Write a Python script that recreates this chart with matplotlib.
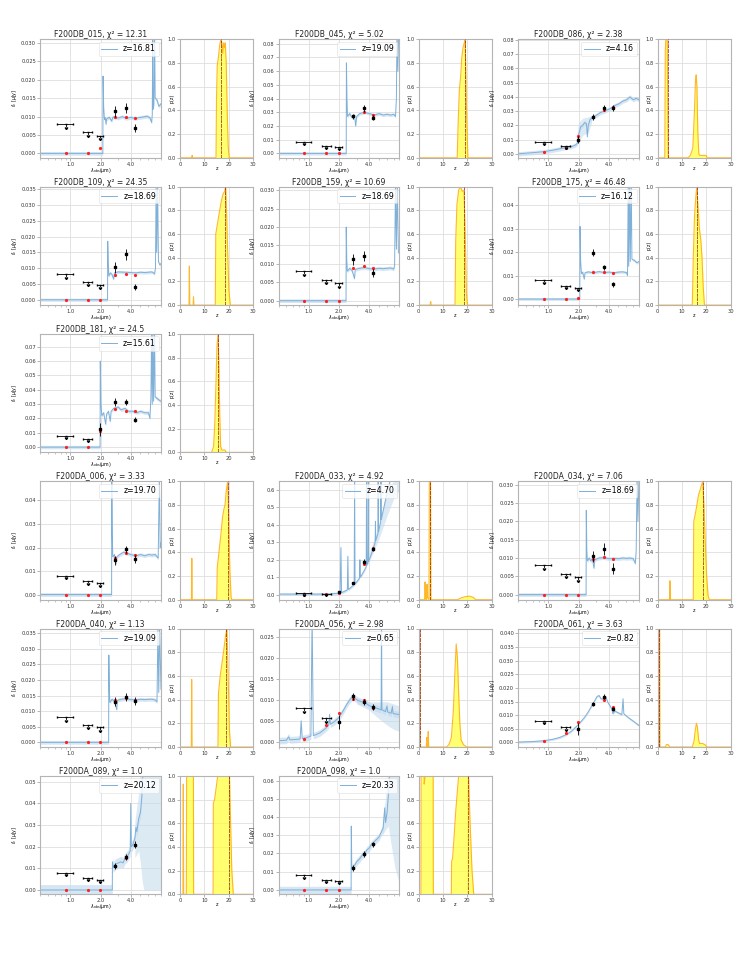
import matplotlib
matplotlib.use('Agg')
import matplotlib.pyplot as plt
from matplotlib.ticker import FixedLocator, FixedFormatter, MultipleLocator, NullFormatter

plt.rcParams['font.family'] = ['DejaVu Sans']
plt.rcParams['mathtext.fontset'] = 'dejavusans'

# NIRCam filters: pivot wavelength (um); first three also used as dropout limits
filt_wave = [0.90, 1.50, 1.99, 2.77, 3.56, 4.40]
filt_hw = [0.16, 0.15, 0.15]
ul_flux = [0.0080, 0.0057, 0.0048]

names = ['F200DB_015', 'F200DB_045', 'F200DB_086', 'F200DB_109', 'F200DB_159',
         'F200DB_175', 'F200DB_181', 'F200DA_006', 'F200DA_033', 'F200DA_034',
         'F200DA_040', 'F200DA_056', 'F200DA_061', 'F200DA_089', 'F200DA_098']
chi2 = ['12.31', '5.02', '2.38', '24.35', '10.69', '46.48', '24.5', '3.33', '4.92',
        '7.06', '1.13', '2.98', '3.63', '1.0', '1.0']
zbest = [16.81, 19.09, 4.16, 18.69, 18.69, 16.12, 15.61, 19.70, 4.70, 18.69,
         19.09, 0.65, 0.82, 20.12, 20.33]
panel_row = [0, 0, 0, 1, 1, 1, 2, 3, 3, 3, 4, 4, 4, 5, 5]
panel_col = [0, 1, 2, 0, 1, 2, 0, 0, 1, 2, 0, 1, 2, 0, 1]

y_lo = [-0.0012, -0.0032, -0.0028, -0.0017, -0.0012, -0.0026, -0.0037, -0.0022,
        -0.028, -0.0014, -0.0015, -0.0012, -0.0017, -0.002, -0.0024]
y_hi = [0.031, 0.0832, 0.0805, 0.0358, 0.031, 0.048, 0.079, 0.0482, 0.649, 0.031,
        0.0365, 0.0269, 0.0418, 0.0528, 0.0626]
y_step = [0.005, 0.01, 0.01, 0.005, 0.005, 0.01, 0.01, 0.01, 0.1, 0.005, 0.005,
          0.005, 0.005, 0.01, 0.01]

# number of filters shown as upper limits (from the blue end)
n_ul = [3, 3, 2, 3, 3, 3, 2, 3, 2, 3, 3, 2, 2, 3, 3]
det_flux = [[0.0115, 0.0124, 0.0069], [0.027, 0.033, 0.026],
            [0.0100, 0.026, 0.032, 0.032], [0.0102, 0.0144, 0.0041],
            [0.0112, 0.0122, 0.0075], [0.0198, 0.0135, 0.0062],
            [0.0125, 0.0315, 0.0315, 0.019], [0.0145, 0.0192, 0.0150],
            [0.014, 0.068, 0.19, 0.26], [0.0105, 0.0125, 0.0071],
            [0.0130, 0.0145, 0.0133], [0.0048, 0.0108, 0.0095, 0.0083],
            [0.0050, 0.0141, 0.0168, 0.0122], [0.011, 0.0152, 0.021],
            [0.012, 0.0197, 0.025]]
det_err = [[0.0015, 0.0013, 0.0010], [0.002, 0.0025, 0.002],
           [0.0025, 0.002, 0.002, 0.002], [0.0017, 0.0017, 0.0010],
           [0.0015, 0.0013, 0.0010], [0.0015, 0.0012, 0.0010],
           [0.0045, 0.0025, 0.0022, 0.0018], [0.0018, 0.0015, 0.0018],
           [0.004, 0.006, 0.012, 0.012], [0.0015, 0.0016, 0.0014],
           [0.0015, 0.0012, 0.0012], [0.0017, 0.0008, 0.0008, 0.0007],
           [0.0022, 0.0008, 0.0008, 0.0008], [0.0015, 0.0015, 0.0015],
           [0.0015, 0.0015, 0.0015]]
model_flux = [[0, 0, 0.0015, 0.0098, 0.0098, 0.0095],
              [0, 0, 0, 0.027, 0.030, 0.028],
              [0.0016, 0.0042, 0.0127, 0.0258, 0.031, 0.033],
              [0, 0, 0, 0.0079, 0.0082, 0.0079],
              [0, 0, 0, 0.0088, 0.0095, 0.0088],
              [0, 0, 0.0005, 0.0115, 0.0115, 0.0112],
              [0, 0, 0.011, 0.0265, 0.0255, 0.025],
              [0, 0, 0, 0.0155, 0.0175, 0.0168],
              [-0.003, 0.002, 0.013, 0.070, 0.175, 0.27],
              [0, 0, 0, 0.0098, 0.0103, 0.0098],
              [0, 0, 0, 0.0135, 0.0142, 0.0137],
              [0.0008, 0.0040, 0.0068, 0.0103, 0.0099, 0.0080],
              [0.0004, 0.0034, 0.0076, 0.0142, 0.0155, 0.0130],
              [0, 0, 0, 0.011, 0.015, 0.021],
              [0, 0, 0, 0.012, 0.0197, 0.025]]

# best-fit template spectra (wavelength um, flux uJy)
spec_015 = [(0.5, 0), (2.11, 0), (2.12, 0.021), (2.15, 0.0125), (2.19, 0.0092), (2.23, 0.0097),
            (2.27, 0.0079), (2.30, 0.0094), (2.45, 0.0098), (2.58, 0.0088), (2.66, 0.0099),
            (3.0, 0.0096), (3.3, 0.0100), (3.6, 0.0095), (4.0, 0.0098), (4.4, 0.0095),
            (4.8, 0.0097), (5.3, 0.0099), (5.8, 0.0101), (6.2, 0.0097), (6.45, 0.0084),
            (6.55, 0.0105), (6.62, 0.034), (6.68, 0.012), (6.8, 0.0135), (6.9, 0.034),
            (7.0, 0.015), (7.3, 0.0145), (7.6, 0.0128), (8.0, 0.0135)]
spec_045 = [(0.5, 0), (2.36, 0), (2.37, 0.066), (2.40, 0.040), (2.43, 0.027), (2.55, 0.029),
            (2.7, 0.026), (2.85, 0.028), (2.93, 0.020), (3.0, 0.027), (3.2, 0.029), (3.6, 0.030),
            (4.0, 0.029), (4.5, 0.028), (5.0, 0.029), (5.5, 0.028), (6.0, 0.0285), (6.5, 0.028),
            (7.0, 0.0285), (7.3, 0.027), (7.45, 0.040), (7.55, 0.090), (7.7, 0.060),
            (7.85, 0.090), (8.0, 0.090)]
spec_086 = [(0.5, 0.0), (0.7, 0.0008), (0.9, 0.0015), (1.1, 0.0025), (1.3, 0.0035), (1.5, 0.0045),
            (1.7, 0.0050), (1.85, 0.0060), (1.95, 0.0075), (2.0, 0.013), (2.05, 0.016),
            (2.1, 0.019), (2.2, 0.020), (2.3, 0.022), (2.4, 0.021), (2.45, 0.012), (2.5, 0.020),
            (2.6, 0.024), (2.8, 0.026), (3.0, 0.027), (3.3, 0.029), (3.6, 0.030), (3.9, 0.031),
            (4.2, 0.032), (4.6, 0.034), (5.0, 0.035), (5.5, 0.037), (6.0, 0.038), (6.5, 0.040),
            (7.0, 0.038), (7.5, 0.039), (8.0, 0.038)]
spec_109 = [(0.5, 0), (2.35, 0), (2.36, 0.0185), (2.39, 0.011), (2.42, 0.0075), (2.5, 0.0085),
            (2.6, 0.0080), (2.7, 0.0065), (2.75, 0.0085), (3.0, 0.0088), (3.5, 0.0087),
            (4.0, 0.0086), (4.5, 0.0085), (5.0, 0.0087), (5.5, 0.0086), (6.0, 0.0087),
            (6.5, 0.0088), (6.9, 0.0082), (7.05, 0.010), (7.15, 0.036), (7.25, 0.015),
            (7.4, 0.036), (7.55, 0.012), (7.8, 0.011), (8.0, 0.0115)]
spec_159 = [(0.5, 0), (2.35, 0), (2.36, 0.020), (2.39, 0.011), (2.42, 0.0080), (2.55, 0.0088),
            (2.7, 0.0082), (2.85, 0.0060), (2.9, 0.0085), (3.2, 0.0088), (3.6, 0.0090),
            (4.0, 0.0087), (4.5, 0.0086), (5.0, 0.0088), (5.5, 0.0087), (6.0, 0.0088),
            (6.5, 0.0089), (7.0, 0.0086), (7.15, 0.0095), (7.3, 0.032), (7.45, 0.014),
            (7.6, 0.032), (7.8, 0.013), (8.0, 0.013)]
spec_175 = [(0.5, 0), (2.06, 0), (2.07, 0.031), (2.10, 0.016), (2.14, 0.0108), (2.2, 0.0115),
            (2.28, 0.0085), (2.32, 0.0112), (2.5, 0.0116), (2.8, 0.0112), (3.2, 0.0117),
            (3.6, 0.0113), (4.0, 0.0115), (4.5, 0.0112), (5.0, 0.0115), (5.5, 0.0116),
            (6.0, 0.0113), (6.15, 0.0100), (6.25, 0.050), (6.32, 0.014), (6.45, 0.050),
            (6.55, 0.016), (6.7, 0.050), (6.8, 0.017), (7.2, 0.0165), (7.6, 0.0155), (8.0, 0.016)]
spec_181 = [(0.5, 0), (1.98, 0), (1.99, 0.060), (2.02, 0.030), (2.06, 0.022), (2.15, 0.024),
            (2.25, 0.016), (2.3, 0.023), (2.4, 0.025), (2.5, 0.018), (2.55, 0.025), (2.7, 0.027),
            (3.0, 0.028), (3.2, 0.026), (3.5, 0.027), (3.8, 0.025), (4.2, 0.025), (4.6, 0.024),
            (5.0, 0.025), (5.5, 0.024), (6.0, 0.024), (6.2, 0.020), (6.35, 0.035), (6.45, 0.080),
            (6.55, 0.030), (6.65, 0.080), (6.75, 0.032), (6.9, 0.080), (7.0, 0.035),
            (7.3, 0.034), (7.6, 0.033), (8.0, 0.032)]
spec_006 = [(0.5, 0), (2.58, 0), (2.59, 0.050), (2.62, 0.025), (2.65, 0.016), (2.75, 0.017),
            (2.85, 0.013), (2.9, 0.016), (3.1, 0.017), (3.4, 0.018), (3.7, 0.0175), (4.0, 0.017),
            (4.5, 0.0165), (5.0, 0.017), (5.5, 0.0165), (6.0, 0.017), (6.5, 0.0168), (7.0, 0.017),
            (7.5, 0.0155), (7.7, 0.050), (7.85, 0.020), (8.0, 0.022)]
spec_033 = [(0.5, 0.004), (0.8, 0.004), (1.2, 0.004), (1.6, 0.005), (1.9, 0.008), (2.05, 0.010),
            (2.09, 0.27), (2.12, 0.012), (2.3, 0.022), (2.42, 0.028), (2.45, 0.22), (2.48, 0.030),
            (2.7, 0.048), (2.83, 0.058), (2.86, 0.66), (2.89, 0.062), (3.1, 0.085), (3.2, 0.095),
            (3.23, 0.20), (3.26, 0.10), (3.5, 0.13), (3.73, 0.16), (3.76, 0.66), (3.79, 0.17),
            (3.88, 0.18), (3.91, 0.66), (3.94, 0.19), (4.3, 0.25), (4.58, 0.30), (4.61, 0.42),
            (4.64, 0.31), (4.88, 0.35), (4.91, 0.66), (4.94, 0.36), (5.2, 0.42), (5.23, 0.66),
            (5.26, 0.43), (5.6, 0.50), (6.0, 0.58), (6.5, 0.66), (8.0, 0.70)]
spec_034 = [(0.5, 0), (2.38, 0), (2.39, 0.023), (2.42, 0.012), (2.45, 0.0092), (2.55, 0.010),
            (2.65, 0.0092), (2.75, 0.0098), (2.85, 0.0072), (2.9, 0.0095), (3.2, 0.0100),
            (3.6, 0.0101), (4.0, 0.0098), (4.5, 0.0099), (5.0, 0.0098), (5.5, 0.0100),
            (6.0, 0.0099), (6.5, 0.0100), (7.0, 0.0098), (7.35, 0.0085), (7.5, 0.012),
            (7.65, 0.032), (7.8, 0.020), (8.0, 0.032)]
spec_040 = [(0.5, 0), (2.41, 0), (2.42, 0.028), (2.45, 0.016), (2.48, 0.0128), (2.6, 0.0138),
            (2.75, 0.0132), (2.9, 0.0105), (2.95, 0.0135), (3.2, 0.0138), (3.6, 0.0140),
            (4.0, 0.0137), (4.5, 0.0136), (5.0, 0.0138), (5.5, 0.0137), (6.0, 0.0138),
            (6.5, 0.0138), (7.0, 0.0136), (7.3, 0.013), (7.45, 0.037), (7.6, 0.016),
            (7.75, 0.037), (8.0, 0.017)]
spec_056 = [(0.5, 0.0003), (0.6, 0.0004), (0.63, 0.0012), (0.65, 0.0005), (0.75, 0.0006),
            (0.82, 0.0007), (0.84, 0.0050), (0.86, 0.0008), (0.95, 0.0010), (1.05, 0.0014),
            (1.08, 0.030), (1.11, 0.0015), (1.2, 0.0018), (1.3, 0.0022), (1.4, 0.0028),
            (1.5, 0.0034), (1.58, 0.0040), (1.61, 0.0065), (1.64, 0.0042), (1.8, 0.0048),
            (2.0, 0.0058), (2.2, 0.0074), (2.4, 0.0090), (2.6, 0.0102), (2.75, 0.0107),
            (2.9, 0.0103), (3.1, 0.0098), (3.4, 0.0095), (3.7, 0.0092), (4.0, 0.0086),
            (4.3, 0.0083), (4.6, 0.0081), (5.0, 0.0078), (5.25, 0.0076), (5.3, 0.030),
            (5.35, 0.0076), (5.8, 0.0072), (6.0, 0.0085), (6.1, 0.0071), (6.6, 0.0068),
            (6.8, 0.0084), (6.9, 0.0067), (7.5, 0.0066), (8.0, 0.0065)]
spec_061 = [(0.5, 0.0001), (0.7, 0.0003), (0.9, 0.0006), (1.1, 0.0011), (1.3, 0.0018),
            (1.5, 0.0028), (1.7, 0.0041), (1.9, 0.0058), (2.1, 0.0075), (2.3, 0.0092),
            (2.5, 0.0112), (2.7, 0.0133), (2.9, 0.0153), (3.05, 0.0168), (3.2, 0.0172),
            (3.35, 0.0160), (3.55, 0.0158), (3.75, 0.0166), (3.9, 0.0148), (4.1, 0.0135),
            (4.3, 0.0122), (4.4, 0.0105), (4.6, 0.0115), (5.0, 0.0108), (5.4, 0.0102),
            (5.55, 0.0160), (5.65, 0.0105), (6.2, 0.0092), (7.0, 0.0078), (8.0, 0.0062)]
spec_089 = [(0.5, 0), (2.62, 0), (2.63, 0.013), (2.68, 0.0105), (2.8, 0.0118), (3.0, 0.0125),
            (3.2, 0.013), (3.35, 0.0125), (3.5, 0.0145), (3.7, 0.0155), (3.85, 0.017),
            (3.95, 0.018), (4.0, 0.040), (4.05, 0.020), (4.2, 0.021), (4.4, 0.024), (4.5, 0.029),
            (4.6, 0.027), (4.8, 0.033), (5.0, 0.036), (5.15, 0.043), (5.3, 0.055), (5.5, 0.060),
            (8.0, 0.060)]
spec_098 = [(0.5, 0), (2.64, 0), (2.65, 0.035), (2.68, 0.012), (2.75, 0.0125), (2.9, 0.014),
            (3.0, 0.0155), (3.2, 0.017), (3.4, 0.019), (3.6, 0.020), (3.8, 0.022), (4.0, 0.023),
            (4.2, 0.025), (4.4, 0.026), (4.6, 0.027), (4.8, 0.028), (5.0, 0.029), (5.2, 0.031),
            (5.5, 0.034), (5.7, 0.045), (5.8, 0.037), (6.0, 0.042), (6.2, 0.052), (6.4, 0.065),
            (8.0, 0.070)]
spectra = [spec_015, spec_045, spec_086, spec_109, spec_159, spec_175, spec_181, spec_006,
           spec_033, spec_034, spec_040, spec_056, spec_061, spec_089, spec_098]
band_hw = [0.0005, 0.0012, 0.0015, 0.0005, 0.0005, 0.0006, 0.0012, 0.0008, 0.008,
           0.0005, 0.0006, 0.0008, 0.0004, 0.0025, 0.002]
# extra wide parts of the uncertainty band: (wavelength, low, high)
wide_band = {
    2: [(1.9, 0.005, 0.009), (2.0, 0.008, 0.022), (2.2, 0.013, 0.025), (2.5, 0.015, 0.026),
        (2.7, 0.022, 0.027)],
    8: [(4.0, 0.19, 0.24), (5.0, 0.32, 0.40), (6.0, 0.45, 0.60), (7.0, 0.55, 0.65),
        (8.0, 0.60, 0.65)],
    11: [(3.0, 0.0090, 0.0105), (4.0, 0.0075, 0.0095), (5.0, 0.0055, 0.0095),
         (6.0, 0.0040, 0.0095), (7.0, 0.0030, 0.0090), (8.0, 0.0025, 0.0085)],
    13: [(4.4, 0.015, 0.032), (4.8, 0.018, 0.045), (5.0, 0.012, 0.060), (5.2, 0.004, 0.060),
         (5.4, 0.0, 0.060), (8.0, 0.0, 0.060)],
    14: [(5.4, 0.030, 0.038), (5.8, 0.033, 0.050), (6.2, 0.035, 0.070), (6.6, 0.025, 0.070),
         (7.2, 0.012, 0.070), (8.0, 0.003, 0.070)],
}

# photometric redshift probability p(z)
pz_015 = [(0, 0), (4.8, 0), (5.0, 0.02), (5.2, 0), (14.8, 0), (15.0, 0.5), (15.3, 0.78),
          (15.8, 0.85), (16.3, 0.95), (16.8, 1.0), (17.2, 0.97), (17.6, 0.88), (17.9, 0.97),
          (18.3, 0.93), (18.6, 0.97), (19.0, 0.8), (19.4, 0.4), (19.8, 0.1), (20.2, 0), (30, 0)]
pz_045 = [(0, 0), (15.9, 0), (16.3, 0.3), (16.8, 0.58), (17.3, 0.68), (17.8, 0.85),
          (18.3, 0.93), (18.8, 0.97), (19.1, 1.0), (19.4, 0.8), (19.8, 0.35), (20.3, 0), (30, 0)]
pz_086 = [(0, 0), (3.0, 0), (3.2, 0.9), (3.4, 1.0), (4.0, 1.0), (4.2, 0.5), (4.4, 0), (12.5, 0),
          (13.5, 0.02), (14.5, 0.08), (15.2, 0.4), (15.6, 0.65), (15.9, 0.70), (16.2, 0.6),
          (16.6, 0.2), (17.0, 0.03), (17.5, 0.02), (20.0, 0.02), (20.4, 0), (30, 0)]
pz_109 = [(0, 0), (3.7, 0), (3.85, 0.33), (4.0, 0), (5.4, 0), (5.55, 0.07), (5.7, 0), (14.5, 0),
          (14.7, 0.6), (15.5, 0.7), (16.3, 0.8), (17.0, 0.88), (17.6, 0.93), (18.3, 0.96),
          (18.8, 1.0), (19.2, 0.75), (19.6, 0.45), (20.1, 0.12), (20.7, 0), (30, 0)]
pz_159 = [(0, 0), (4.8, 0), (5.0, 0.03), (5.2, 0), (15.0, 0), (15.3, 0.55), (15.8, 0.85),
          (16.5, 0.97), (17.2, 1.0), (18.0, 0.96), (18.7, 0.97), (19.2, 0.6), (19.7, 0.1),
          (20.1, 0), (30, 0)]
pz_175 = [(0, 0), (14.3, 0), (14.7, 0.4), (15.2, 0.75), (15.7, 0.9), (16.1, 1.0), (16.6, 0.85),
          (17.2, 0.65), (17.8, 0.55), (18.3, 0.4), (18.8, 0.15), (19.3, 0), (30, 0)]
pz_181 = [(0, 0), (13.0, 0), (13.8, 0.05), (14.3, 0.25), (14.8, 0.6), (15.2, 0.9), (15.6, 1.0),
          (16.0, 0.75), (16.3, 0.35), (16.7, 0.05), (17.2, 0.02), (18.5, 0.02), (19.0, 0), (30, 0)]
pz_006 = [(0, 0), (4.7, 0), (4.85, 0.35), (5.0, 0), (15.1, 0), (15.3, 0.27), (16.0, 0.4),
          (16.8, 0.55), (17.5, 0.7), (18.0, 0.76), (18.5, 0.8), (19.0, 0.92), (19.6, 1.0),
          (20.0, 0.7), (20.5, 0.25), (21.0, 0.02), (21.3, 0), (30, 0)]
pz_033 = [(0, 0), (2.5, 0), (2.7, 0.15), (2.9, 0.02), (3.2, 0), (3.5, 0.13), (3.7, 0.02),
          (4.3, 0), (4.45, 1.0), (4.95, 1.0), (5.1, 0), (16.0, 0), (17.5, 0.015), (19.0, 0.025),
          (21.0, 0.03), (22.5, 0.02), (23.5, 0), (30, 0)]
pz_034 = [(0, 0), (4.9, 0), (5.1, 0.16), (5.35, 0), (14.7, 0), (14.9, 0.66), (15.5, 0.72),
          (16.2, 0.8), (16.8, 0.88), (17.4, 0.92), (18.0, 0.96), (18.6, 1.0), (19.1, 0.8),
          (19.6, 0.5), (20.2, 0.2), (20.8, 0.03), (21.3, 0), (30, 0)]
pz_040 = [(0, 0), (4.65, 0), (4.8, 0.57), (4.95, 0), (15.6, 0), (15.8, 0.45), (16.5, 0.6),
          (17.2, 0.7), (18.0, 0.82), (18.8, 0.95), (19.3, 1.0), (19.8, 0.6), (20.3, 0.15),
          (20.8, 0), (30, 0)]
pz_056 = [(0, 0), (0.2, 0), (0.3, 1.0), (0.5, 1.0), (0.6, 0), (3.2, 0), (3.4, 0.08), (3.6, 0),
          (3.8, 0), (4.0, 0.13), (4.2, 0), (11.5, 0), (12.5, 0.02), (13.5, 0.08), (14.3, 0.3),
          (15.0, 0.65), (15.5, 0.87), (16.0, 0.75), (16.5, 0.45), (17.0, 0.2), (17.5, 0.06),
          (18.5, 0.02), (19.8, 0), (30, 0)]
pz_061 = [(0, 0), (0.6, 0), (0.7, 1.0), (0.9, 1.0), (1.0, 0), (3.3, 0), (3.6, 0.02),
          (4.4, 0.02), (5.0, 0), (14.3, 0), (15.0, 0.05), (15.5, 0.14), (16.0, 0.2),
          (16.4, 0.17), (16.9, 0.06), (17.3, 0.03), (18.5, 0.03), (19.5, 0.02), (20.3, 0), (30, 0)]
pz_089 = [(0, 0), (1.2, 0), (1.35, 0.93), (1.5, 0), (2.6, 0), (2.75, 1.3), (5.5, 1.3), (5.6, 0),
          (13.6, 0), (13.7, 0.77), (14.2, 0.8), (15.0, 0.92), (15.8, 1.05), (16.5, 1.3),
          (19.5, 1.3), (20.3, 1.05), (20.8, 0.6), (21.3, 0.2), (21.9, 0), (30, 0)]
pz_098 = [(0, 0), (1.0, 0), (1.1, 1.3), (2.2, 1.3), (2.35, 0.93), (2.6, 0.97), (2.8, 1.3),
          (6.0, 1.3), (6.1, 0), (13.5, 0), (13.6, 0.28), (14.0, 0.3), (14.5, 0.45), (15.3, 0.7),
          (16.0, 0.88), (16.7, 1.05), (17.5, 1.3), (19.8, 1.3), (20.5, 1.05), (21.2, 0.6),
          (22.0, 0.2), (22.7, 0), (30, 0)]
pz_curves = [pz_015, pz_045, pz_086, pz_109, pz_159, pz_175, pz_181, pz_006, pz_033, pz_034,
             pz_040, pz_056, pz_061, pz_089, pz_098]

W, H = 749, 969
fig = plt.figure(figsize=(W / 100, H / 100), dpi=100)

sed_left = [40, 278.5, 518]
pz_left = [180, 418.5, 657.5]
row_top0, row_pitch, row_h = 39.3, 147.3, 118.5
sed_w, pz_w = 121, 73

spec_color = '#7fb0d8'
band_color = '#c6dcee'
tick_fs = 3.7
label_fs = 3.4


def add_ax(l, t, w, h):
    return fig.add_axes([l / W, 1 - (t + h) / H, w / W, h / H])


def style(ax):
    for s in ax.spines.values():
        s.set_color('#b4b4b4')
        s.set_linewidth(0.8)
    ax.tick_params(which='major', length=2, width=0.5, color='#999999',
                   labelcolor='#333333', labelsize=tick_fs, pad=0.8)
    ax.tick_params(which='minor', length=1.2, width=0.4, color='#999999')
    ax.grid(True, which='major', color='#dedede', lw=0.6)
    ax.set_axisbelow(True)


for i in range(len(names)):
    r, c = panel_row[i], panel_col[i]
    top = row_top0 + r * row_pitch

    # ---- SED panel
    ax = add_ax(sed_left[c], top, sed_w, row_h)
    style(ax)
    ax.set_xscale('log')
    w = [p[0] for p in spectra[i]]
    f = [p[1] for p in spectra[i]]
    ax.fill_between(w, [v - band_hw[i] for v in f], [v + band_hw[i] for v in f],
                    color=band_color, alpha=0.7, lw=0, zorder=1)
    if i in wide_band:
        ax.fill_between([b[0] for b in wide_band[i]], [b[1] for b in wide_band[i]],
                        [b[2] for b in wide_band[i]], color=band_color, alpha=0.6, lw=0, zorder=1)
    ax.plot(w, f, color=spec_color, lw=0.7, zorder=2, label='z=%.2f' % zbest[i])

    k = n_ul[i]
    ax.errorbar(filt_wave[:k], ul_flux[:k], xerr=filt_hw[:k], yerr=[0.0007] * k,
                uplims=[True] * k, fmt='none', ecolor='k', elinewidth=0.6, capsize=1.0,
                zorder=4)
    ax.plot(filt_wave, model_flux[i], 'o', color='#ff2020', ms=2.3, mew=0, zorder=3)
    ax.errorbar(filt_wave[k:], det_flux[i], yerr=det_err[i], fmt='s', color='k', ms=2.0,
                elinewidth=0.6, capsize=0, zorder=5)

    ax.set_xlim(0.5, 8.0)
    ax.set_ylim(y_lo[i], y_hi[i])
    ax.xaxis.set_major_locator(FixedLocator([1.0, 2.0, 4.0]))
    ax.xaxis.set_major_formatter(FixedFormatter(['1.0', '2.0', '4.0']))
    ax.xaxis.set_minor_formatter(NullFormatter())
    ax.yaxis.set_major_locator(MultipleLocator(y_step[i]))
    ax.set_xlabel(r'$\lambda_{\rm obs}(\mu{\rm m})$', fontsize=label_fs)
    ax.xaxis.set_label_coords(0.5, -0.066)
    ax.set_ylabel(r'$f_\nu$ [$\mu$Jy]', fontsize=label_fs)
    ax.yaxis.set_label_coords(-0.175, 0.5)
    ax.set_title(names[i] + ', \u03c7\u00b2 = ' + chi2[i], fontsize=5.5, pad=0.3,
                 color='#222222')
    leg = ax.legend(loc='upper right', fontsize=5.6, handlelength=2.0, borderpad=0.35,
                    handletextpad=0.8, framealpha=0.8, borderaxespad=0.3)
    leg.get_frame().set_edgecolor('#dddddd')
    leg.get_frame().set_linewidth(0.5)

    # ---- p(z) panel
    ax2 = add_ax(pz_left[c], top, pz_w, row_h)
    style(ax2)
    zz = [p[0] for p in pz_curves[i]]
    pp = [p[1] for p in pz_curves[i]]
    ax2.fill_between(zz, 0, pp, color='#ffff33', alpha=0.7, lw=0, zorder=1)
    ax2.plot(zz, pp, color='orange', lw=0.8, alpha=0.8, zorder=2)
    ax2.axvline(zbest[i], color='k', ls='--', lw=0.6, alpha=0.55, zorder=3)
    ax2.axvline(zbest[i], color='red', ls=':', lw=0.7, alpha=0.7, zorder=3)
    ax2.set_xlim(0, 30)
    ax2.set_ylim(0, 1)
    ax2.xaxis.set_major_locator(MultipleLocator(10))
    ax2.yaxis.set_major_locator(MultipleLocator(0.2))
    ax2.set_xlabel('z', fontsize=label_fs)
    ax2.xaxis.set_label_coords(0.5, -0.066)
    ax2.set_ylabel('p(z)', fontsize=label_fs)
    ax2.yaxis.set_label_coords(-0.075, 0.5)

fig.savefig('out.png', dpi=100)
